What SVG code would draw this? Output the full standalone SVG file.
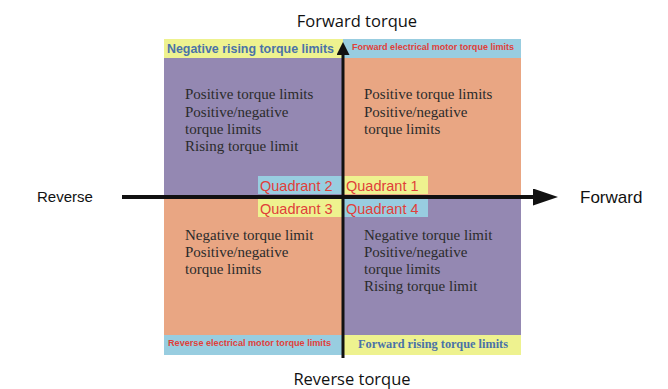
<svg xmlns="http://www.w3.org/2000/svg" width="668" height="389" viewBox="0 0 668 389">
<defs>
<style>
.q{font-family:"Liberation Serif","Times New Roman",serif;font-size:15px;fill:#2b2b2b}
.ql{font-family:"Liberation Sans",Arial,sans-serif;font-size:14.5px;fill:#e0403a}
.ax{font-family:"Open Sans","Noto Sans",sans-serif;font-size:16.5px;fill:#111}
.side{font-family:"Liberation Sans",Arial,sans-serif;font-size:15px;fill:#111}
.hb{font-family:"Liberation Sans",Arial,sans-serif;font-weight:bold;font-size:12px;fill:#4a72a8}
.hr{font-family:"Liberation Sans",Arial,sans-serif;font-weight:bold;font-size:9.5px;fill:#e0403a}
.hs{font-family:"Liberation Serif","Times New Roman",serif;font-weight:bold;font-size:12px;fill:#4a72a8}
.purple{fill:#9488b2}
.orange{fill:#e9a683}
.blue{fill:#98cde0}
.yellow{fill:#eef28f}
.axis{stroke:#111;fill:none}
</style>
<marker id="ahv" viewBox="0 0 13 13" refX="6" refY="6.5" markerWidth="13" markerHeight="13" orient="auto" markerUnits="userSpaceOnUse">
<path d="M0,0 L13,6.5 L0,13 z" fill="#111"/>
</marker>
<marker id="ahh" viewBox="0 0 25 17" refX="12" refY="8.5" markerWidth="25" markerHeight="17" orient="auto" markerUnits="userSpaceOnUse">
<path d="M0,0 L25,8.5 L0,17 z" fill="#111"/>
</marker>
</defs>
<rect width="668" height="389" fill="#fff"/>
<g id="header-left"><rect class="yellow" x="164" y="39" width="179" height="19"/><text class="hb" x="167" y="52.5" textLength="167" lengthAdjust="spacingAndGlyphs">Negative rising torque limits</text></g>
<g id="header-right"><rect class="blue" x="343" y="39" width="178" height="19"/><text class="hr" x="352" y="50" textLength="162" lengthAdjust="spacingAndGlyphs">Forward electrical motor torque limits</text></g>
<g id="q2"><rect class="purple" x="164" y="58" width="179" height="139"/>
<text class="q" x="185" y="99">Positive torque limits</text>
<text class="q" x="185" y="116.5">Positive/negative</text>
<text class="q" x="185" y="133.5">torque limits</text>
<text class="q" x="185" y="151">Rising torque limit</text></g>
<g id="q1"><rect class="orange" x="343" y="58" width="178" height="139"/>
<text class="q" x="364" y="99">Positive torque limits</text>
<text class="q" x="364" y="116.5">Positive/negative</text>
<text class="q" x="364" y="133.5">torque limits</text></g>
<g id="q3"><rect class="orange" x="164" y="197" width="179" height="138"/>
<text class="q" x="185" y="240">Negative torque limit</text>
<text class="q" x="185" y="257">Positive/negative</text>
<text class="q" x="185" y="274">torque limits</text></g>
<g id="q4"><rect class="purple" x="343" y="197" width="178" height="138"/>
<text class="q" x="364" y="240">Negative torque limit</text>
<text class="q" x="364" y="257">Positive/negative</text>
<text class="q" x="364" y="274">torque limits</text>
<text class="q" x="364" y="291">Rising torque limit</text></g>
<g id="footer-left"><rect class="blue" x="164" y="335" width="179" height="20"/><text class="hr" x="168" y="345.5" textLength="163" lengthAdjust="spacingAndGlyphs">Reverse electrical motor torque limits</text></g>
<g id="footer-right"><rect class="yellow" x="343" y="335" width="178" height="20"/><text class="hs" x="358" y="348" textLength="150" lengthAdjust="spacingAndGlyphs">Forward rising torque limits</text></g>
<g id="quadrant-labels">
<rect class="blue" x="258" y="176" width="85" height="18"/><text class="ql" x="260" y="190.5">Quadrant 2</text>
<rect class="yellow" x="343" y="176" width="85" height="18"/><text class="ql" x="346" y="190.5">Quadrant 1</text>
<rect class="yellow" x="258" y="199" width="85" height="18"/><text class="ql" x="260" y="213.5">Quadrant 3</text>
<rect class="blue" x="343" y="199" width="85" height="18"/><text class="ql" x="346" y="213.5">Quadrant 4</text>
</g>
<g id="connectors">
<line class="axis" x1="343" y1="358" x2="343" y2="49" stroke-width="3" marker-end="url(#ahv)"/>
<line class="axis" x1="122" y1="197" x2="545" y2="197" stroke-width="4" marker-end="url(#ahh)"/>
</g>
<text class="ax" x="357" y="27" text-anchor="middle">Forward torque</text>
<text class="ax" x="352" y="385" text-anchor="middle">Reverse torque</text>
<text class="side" x="37" y="202">Reverse</text>
<text class="side" x="580" y="203" style="font-size:17px">Forward</text>
</svg>
